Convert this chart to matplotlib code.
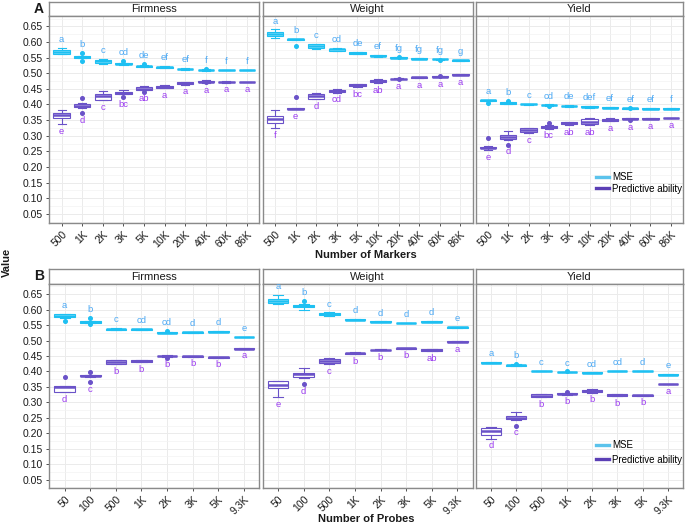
import matplotlib
matplotlib.use("Agg")
import matplotlib.pyplot as plt
from matplotlib.lines import Line2D
import numpy as np

plt.rcParams['font.family'] = ['Liberation Sans', 'DejaVu Sans']

# ---------------- data ----------------
markers = ["500", "1K", "2K", "3K", "5K", "10K", "20K", "40K", "60K", "86K"]
probes = ["50", "100", "500", "1K", "2K", "3K", "5K", "9.3K"]
traits = ["Firmness", "Weight", "Yield"]

# Row A (Number of Markers)
a_firm_mse_med = [0.568, 0.552, 0.538, 0.530, 0.522, 0.519, 0.513, 0.510, 0.510, 0.510]
a_firm_mse_q1 = [0.562, 0.550, 0.533, 0.528, 0.520, 0.518, 0.512, 0.509, 0.509, 0.509]
a_firm_mse_q3 = [0.573, 0.554, 0.543, 0.532, 0.524, 0.521, 0.515, 0.511, 0.511, 0.511]
a_firm_mse_lo = [0.560, 0.548, 0.531, 0.526, 0.519, 0.517, 0.511, 0.508, 0.509, 0.509]
a_firm_mse_hi = [0.582, 0.556, 0.545, 0.534, 0.526, 0.522, 0.516, 0.512, 0.511, 0.511]
a_firm_mse_out = [[], [0.565, 0.539], [], [0.538], [0.529], [], [], [0.513], [], []]
a_firm_mse_let = ["a", "b", "c", "cd", "de", "ef", "ef", "f", "f", "f"]

a_firm_pa_med = [0.365, 0.396, 0.426, 0.438, 0.451, 0.457, 0.469, 0.473, 0.472, 0.472]
a_firm_pa_q1 = [0.357, 0.391, 0.415, 0.435, 0.447, 0.454, 0.466, 0.471, 0.471, 0.471]
a_firm_pa_q3 = [0.372, 0.402, 0.434, 0.441, 0.455, 0.460, 0.471, 0.475, 0.473, 0.473]
a_firm_pa_lo = [0.338, 0.389, 0.413, 0.433, 0.445, 0.452, 0.463, 0.469, 0.470, 0.471]
a_firm_pa_hi = [0.381, 0.404, 0.442, 0.446, 0.460, 0.462, 0.473, 0.477, 0.474, 0.473]
a_firm_pa_out = [[], [0.421, 0.372], [], [0.424], [0.441], [], [], [0.473], [], []]
a_firm_pa_let = ["e", "d", "c", "bc", "ab", "a", "a", "a", "a", "a"]

a_wt_mse_med = [0.626, 0.608, 0.587, 0.576, 0.565, 0.556, 0.550, 0.547, 0.545, 0.541]
a_wt_mse_q1 = [0.620, 0.607, 0.581, 0.572, 0.563, 0.554, 0.549, 0.546, 0.544, 0.540]
a_wt_mse_q3 = [0.633, 0.610, 0.592, 0.579, 0.567, 0.558, 0.551, 0.548, 0.546, 0.542]
a_wt_mse_lo = [0.613, 0.606, 0.579, 0.570, 0.561, 0.553, 0.548, 0.545, 0.543, 0.540]
a_wt_mse_hi = [0.640, 0.611, 0.594, 0.581, 0.569, 0.559, 0.552, 0.549, 0.547, 0.542]
a_wt_mse_out = [[], [0.587], [], [], [], [], [0.551], [], [0.542], []]
a_wt_mse_let = ["a", "b", "c", "cd", "de", "ef", "fg", "fg", "fg", "g"]

a_wt_pa_med = [0.353, 0.387, 0.427, 0.444, 0.461, 0.475, 0.482, 0.487, 0.489, 0.495]
a_wt_pa_q1 = [0.342, 0.386, 0.419, 0.440, 0.458, 0.471, 0.481, 0.486, 0.488, 0.494]
a_wt_pa_q3 = [0.363, 0.389, 0.434, 0.447, 0.464, 0.479, 0.483, 0.488, 0.490, 0.496]
a_wt_pa_lo = [0.324, 0.385, 0.416, 0.438, 0.456, 0.469, 0.480, 0.485, 0.487, 0.494]
a_wt_pa_hi = [0.381, 0.390, 0.437, 0.449, 0.466, 0.481, 0.484, 0.489, 0.491, 0.496]
a_wt_pa_out = [[], [0.425], [], [], [], [], [0.480], [], [0.492], []]
a_wt_pa_let = ["f", "e", "d", "cd", "bc", "ab", "a", "a", "a", "a"]

a_yl_mse_med = [0.413, 0.405, 0.401, 0.398, 0.395, 0.393, 0.390, 0.388, 0.387, 0.387]
a_yl_mse_q1 = [0.412, 0.403, 0.400, 0.397, 0.394, 0.391, 0.389, 0.387, 0.386, 0.386]
a_yl_mse_q3 = [0.414, 0.407, 0.402, 0.399, 0.396, 0.395, 0.391, 0.389, 0.388, 0.388]
a_yl_mse_lo = [0.411, 0.402, 0.399, 0.396, 0.393, 0.390, 0.389, 0.387, 0.386, 0.386]
a_yl_mse_hi = [0.415, 0.408, 0.403, 0.400, 0.397, 0.396, 0.392, 0.390, 0.388, 0.388]
a_yl_mse_out = [[0.405], [0.410], [], [0.394], [], [], [], [0.390], [], []]
a_yl_mse_let = ["a", "b", "c", "cd", "de", "def", "ef", "ef", "ef", "f"]

a_yl_pa_med = [0.262, 0.297, 0.319, 0.328, 0.340, 0.343, 0.351, 0.355, 0.355, 0.357]
a_yl_pa_q1 = [0.261, 0.291, 0.313, 0.326, 0.337, 0.337, 0.348, 0.354, 0.354, 0.356]
a_yl_pa_q3 = [0.264, 0.304, 0.324, 0.331, 0.343, 0.353, 0.355, 0.356, 0.356, 0.358]
a_yl_pa_lo = [0.255, 0.288, 0.309, 0.323, 0.335, 0.334, 0.346, 0.353, 0.354, 0.356]
a_yl_pa_hi = [0.266, 0.316, 0.326, 0.333, 0.345, 0.357, 0.356, 0.357, 0.356, 0.358]
a_yl_pa_out = [[0.293], [0.272], [], [0.340], [], [], [], [0.349], [], []]
a_yl_pa_let = ["e", "d", "c", "bc", "ab", "ab", "a", "a", "a", "a"]

# Row B (Number of Probes)
b_firm_mse_med = [0.581, 0.560, 0.537, 0.536, 0.526, 0.527, 0.529, 0.512]
b_firm_mse_q1 = [0.575, 0.558, 0.535, 0.535, 0.525, 0.526, 0.528, 0.511]
b_firm_mse_q3 = [0.585, 0.562, 0.539, 0.537, 0.527, 0.528, 0.530, 0.513]
b_firm_mse_lo = [0.573, 0.556, 0.534, 0.534, 0.524, 0.526, 0.528, 0.511]
b_firm_mse_hi = [0.587, 0.563, 0.540, 0.538, 0.528, 0.528, 0.530, 0.513]
b_firm_mse_out = [[0.562], [0.572, 0.552], [], [], [0.530], [], [], []]
b_firm_mse_let = ["a", "b", "c", "cd", "cd", "d", "d", "e"]

b_firm_pa_med = [0.350, 0.386, 0.432, 0.434, 0.450, 0.449, 0.446, 0.474]
b_firm_pa_q1 = [0.335, 0.384, 0.425, 0.431, 0.449, 0.448, 0.445, 0.473]
b_firm_pa_q3 = [0.354, 0.388, 0.436, 0.437, 0.451, 0.450, 0.447, 0.475]
b_firm_pa_lo = [0.333, 0.382, 0.424, 0.430, 0.448, 0.448, 0.445, 0.473]
b_firm_pa_hi = [0.354, 0.390, 0.437, 0.438, 0.452, 0.450, 0.447, 0.475]
b_firm_pa_out = [[0.383], [0.399, 0.366], [], [], [0.445], [], [], []]
b_firm_pa_let = ["d", "c", "b", "b", "b", "b", "b", "a"]

b_wt_mse_med = [0.627, 0.611, 0.585, 0.568, 0.561, 0.557, 0.561, 0.543]
b_wt_mse_q1 = [0.621, 0.607, 0.582, 0.567, 0.560, 0.556, 0.560, 0.542]
b_wt_mse_q3 = [0.635, 0.615, 0.589, 0.569, 0.562, 0.558, 0.562, 0.544]
b_wt_mse_lo = [0.619, 0.598, 0.580, 0.566, 0.560, 0.556, 0.559, 0.542]
b_wt_mse_hi = [0.647, 0.617, 0.591, 0.570, 0.562, 0.558, 0.563, 0.544]
b_wt_mse_out = [[], [0.627], [], [], [], [], [], []]
b_wt_mse_let = ["a", "b", "c", "d", "d", "d", "d", "e"]

b_wt_pa_med = [0.357, 0.391, 0.433, 0.459, 0.470, 0.475, 0.470, 0.496]
b_wt_pa_q1 = [0.347, 0.381, 0.428, 0.457, 0.469, 0.474, 0.467, 0.495]
b_wt_pa_q3 = [0.368, 0.396, 0.439, 0.461, 0.471, 0.476, 0.472, 0.497]
b_wt_pa_lo = [0.317, 0.379, 0.424, 0.456, 0.468, 0.473, 0.466, 0.495]
b_wt_pa_hi = [0.370, 0.411, 0.443, 0.462, 0.472, 0.477, 0.473, 0.497]
b_wt_pa_out = [[], [0.359], [], [], [], [], [], []]
b_wt_pa_let = ["e", "d", "c", "b", "b", "b", "ab", "a"]

b_yl_mse_med = [0.429, 0.420, 0.402, 0.398, 0.396, 0.401, 0.401, 0.390]
b_yl_mse_q1 = [0.428, 0.418, 0.401, 0.397, 0.395, 0.400, 0.400, 0.389]
b_yl_mse_q3 = [0.431, 0.422, 0.403, 0.399, 0.397, 0.402, 0.402, 0.391]
b_yl_mse_lo = [0.427, 0.417, 0.401, 0.397, 0.395, 0.400, 0.400, 0.389]
b_yl_mse_hi = [0.431, 0.423, 0.403, 0.399, 0.397, 0.402, 0.402, 0.391]
b_yl_mse_out = [[], [0.424], [], [0.400], [], [], [], []]
b_yl_mse_let = ["a", "b", "c", "c", "cd", "cd", "d", "e"]

b_yl_pa_med = [0.209, 0.251, 0.322, 0.328, 0.337, 0.324, 0.323, 0.360]
b_yl_pa_q1 = [0.196, 0.246, 0.318, 0.326, 0.333, 0.322, 0.322, 0.359]
b_yl_pa_q3 = [0.216, 0.256, 0.326, 0.330, 0.341, 0.327, 0.324, 0.361]
b_yl_pa_lo = [0.182, 0.244, 0.316, 0.325, 0.331, 0.320, 0.321, 0.359]
b_yl_pa_hi = [0.221, 0.269, 0.327, 0.331, 0.342, 0.328, 0.325, 0.361]
b_yl_pa_out = [[], [0.225], [], [0.332], [], [], [], []]
b_yl_pa_let = ["d", "c", "b", "b", "b", "b", "b", "a"]

yticks = [0.05, 0.10, 0.15, 0.20, 0.25, 0.30, 0.35, 0.40, 0.45, 0.50, 0.55, 0.60, 0.65]

# ---------------- styling ----------------
W, H = 685, 527
MSE_COL = "#1EC0F2"
PA_COL = "#6A52C8"
MSE_TXT = "#4AA8F4"
PA_TXT = "#9B3CF0"
BORDER = "#8A8A8A"
GRID = "#EBEBEB"
TXT = "#1A1A1A"

fig = plt.figure(figsize=(W / 100, H / 100), dpi=100)
fig.patch.set_facecolor("white")


def rect(x0, y0, x1, y1):
    return [x0 / W, 1 - y1 / H, (x1 - x0) / W, (y1 - y0) / H]


def series(med, q1, q3, lo, hi, out):
    return [dict(med=m, q1=a, q3=b, whislo=l, whishi=h, fliers=f)
            for m, a, b, l, h, f in zip(med, q1, q3, lo, hi, out)]


def draw_box(ax, stats, col):
    pos = np.arange(1, len(stats) + 1)
    ax.bxp(stats, positions=pos, widths=0.8, showfliers=True, patch_artist=True,
           capwidths=0.4,
           boxprops=dict(facecolor="white", edgecolor=col, linewidth=0.8),
           medianprops=dict(color=col, linewidth=1.8, solid_capstyle="butt"),
           whiskerprops=dict(color=col, linewidth=0.8),
           capprops=dict(color=col, linewidth=0.8),
           flierprops=dict(marker="o", markersize=2.6, markerfacecolor=col,
                           markeredgecolor=col, linestyle="none"),
           zorder=3)


def draw_letters(ax, stats, letters, col, above):
    for i, (s, l) in enumerate(zip(stats, letters)):
        vals = [s["whislo"], s["whishi"], s["q1"], s["q3"]] + list(s["fliers"])
        if above:
            ax.text(i + 1, max(vals) + 0.019, l, color=col, fontsize=6.8,
                    ha="center", va="baseline", zorder=4)
        else:
            ax.text(i + 1, min(vals) - 0.031, l, color=col, fontsize=6.8,
                    ha="center", va="baseline", zorder=4)


panel_x = [(49.3, 259.3), (262.7, 472.7), (475.7, 683.0)]
rows = [
    dict(cats=markers, strip=(2.0, 16.0), panel=(16.0, 222.7),
         data=[
             (series(a_firm_mse_med, a_firm_mse_q1, a_firm_mse_q3, a_firm_mse_lo, a_firm_mse_hi, a_firm_mse_out), a_firm_mse_let,
              series(a_firm_pa_med, a_firm_pa_q1, a_firm_pa_q3, a_firm_pa_lo, a_firm_pa_hi, a_firm_pa_out), a_firm_pa_let),
             (series(a_wt_mse_med, a_wt_mse_q1, a_wt_mse_q3, a_wt_mse_lo, a_wt_mse_hi, a_wt_mse_out), a_wt_mse_let,
              series(a_wt_pa_med, a_wt_pa_q1, a_wt_pa_q3, a_wt_pa_lo, a_wt_pa_hi, a_wt_pa_out), a_wt_pa_let),
             (series(a_yl_mse_med, a_yl_mse_q1, a_yl_mse_q3, a_yl_mse_lo, a_yl_mse_hi, a_yl_mse_out), a_yl_mse_let,
              series(a_yl_pa_med, a_yl_pa_q1, a_yl_pa_q3, a_yl_pa_lo, a_yl_pa_hi, a_yl_pa_out), a_yl_pa_let),
         ],
         xlabel="Number of Markers", xlabel_y=254.5, tag="A", tag_y=9.0,
         legend_y=183.0, legend_sp=0.15),
    dict(cats=probes, strip=(269.3, 284.0), panel=(284.0, 488.3),
         data=[
             (series(b_firm_mse_med, b_firm_mse_q1, b_firm_mse_q3, b_firm_mse_lo, b_firm_mse_hi, b_firm_mse_out), b_firm_mse_let,
              series(b_firm_pa_med, b_firm_pa_q1, b_firm_pa_q3, b_firm_pa_lo, b_firm_pa_hi, b_firm_pa_out), b_firm_pa_let),
             (series(b_wt_mse_med, b_wt_mse_q1, b_wt_mse_q3, b_wt_mse_lo, b_wt_mse_hi, b_wt_mse_out), b_wt_mse_let,
              series(b_wt_pa_med, b_wt_pa_q1, b_wt_pa_q3, b_wt_pa_lo, b_wt_pa_hi, b_wt_pa_out), b_wt_pa_let),
             (series(b_yl_mse_med, b_yl_mse_q1, b_yl_mse_q3, b_yl_mse_lo, b_yl_mse_hi, b_yl_mse_out), b_yl_mse_let,
              series(b_yl_pa_med, b_yl_pa_q1, b_yl_pa_q3, b_yl_pa_lo, b_yl_pa_hi, b_yl_pa_out), b_yl_pa_let),
         ],
         xlabel="Number of Probes", xlabel_y=519.0, tag="B", tag_y=276.5,
         legend_y=452.5, legend_sp=0.45),
]

for row in rows:
    cats = row["cats"]
    n = len(cats)
    for j, (x0, x1) in enumerate(panel_x):
        # strip
        sax = fig.add_axes(rect(x0, row["strip"][0], x1, row["strip"][1]))
        sax.set_xticks([]); sax.set_yticks([])
        sax.set_facecolor("white")
        for sp in sax.spines.values():
            sp.set_color(BORDER); sp.set_linewidth(1.0)
        sax.text(0.5, 0.5, traits[j], transform=sax.transAxes, ha="center",
                 va="center", fontsize=8, color=TXT)

        ax = fig.add_axes(rect(x0, row["panel"][0], x1, row["panel"][1]))
        ax.set_xlim(0.4, n + 0.6)
        ax.set_ylim(0.022, 0.683)
        ax.set_yticks(yticks)
        ax.set_yticks(np.arange(0.025, 0.68, 0.05), minor=True)
        ax.set_xticks(np.arange(1, n + 1))
        ax.set_xticklabels(cats, rotation=45, ha="right", va="top",
                           rotation_mode="anchor", fontsize=7.5, color=TXT)
        if j == 0:
            ax.set_yticklabels(["%.2f" % v for v in yticks], fontsize=7.5, color=TXT)
        else:
            ax.set_yticklabels([])
            ax.tick_params(axis="y", length=0, which="both")
        ax.tick_params(axis="both", which="major", length=2.5, width=0.6,
                       color="#333333", pad=2)
        ax.tick_params(axis="y", which="minor", length=0)
        if j != 0:
            ax.tick_params(axis="y", which="major", length=0)
        ax.grid(True, which="major", color=GRID, linewidth=0.7, zorder=0)
        ax.grid(True, which="minor", axis="y", color="#F3F3F3", linewidth=0.5, zorder=0)
        ax.set_axisbelow(True)
        for sp in ax.spines.values():
            sp.set_color(BORDER); sp.set_linewidth(1.0)

        mse_stats, mse_let, pa_stats, pa_let = row["data"][j]
        draw_box(ax, mse_stats, MSE_COL)
        draw_box(ax, pa_stats, PA_COL)
        draw_letters(ax, mse_stats, mse_let, MSE_TXT, True)
        draw_letters(ax, pa_stats, pa_let, PA_TXT, False)
        ax.set_xticks(np.arange(1, n + 1))
        ax.set_xticklabels(cats, rotation=45, ha="right", va="top",
                           rotation_mode="anchor", fontsize=7.5, color=TXT)
        ax.set_xlim(0.4, n + 0.6)

        if j == 2:
            handles = [Line2D([0], [0], color="#5BC3EC", lw=2.4),
                       Line2D([0], [0], color="#5B3FB5", lw=2.4)]
            ax.legend(handles, ["MSE", "Predictive ability"], frameon=False,
                      fontsize=7, loc="center left",
                      bbox_to_anchor=(596 / W, 1 - row["legend_y"] / H),
                      bbox_transform=fig.transFigure, borderpad=0,
                      borderaxespad=0, handlelength=1.35, handletextpad=0.3,
                      labelspacing=row["legend_sp"])

    fig.text(366 / W, 1 - row["xlabel_y"] / H, row["xlabel"], ha="center",
             va="center", fontsize=8, fontweight="bold", color=TXT)
    fig.text(39 / W, 1 - row["tag_y"] / H, row["tag"], ha="center", va="center",
             fontsize=10, fontweight="bold", color=TXT)

fig.text(7 / W, 1 - 262 / H, "Value", rotation=90, ha="center", va="center",
         fontsize=8, fontweight="bold", color=TXT)

fig.savefig("out.png", dpi=100)
